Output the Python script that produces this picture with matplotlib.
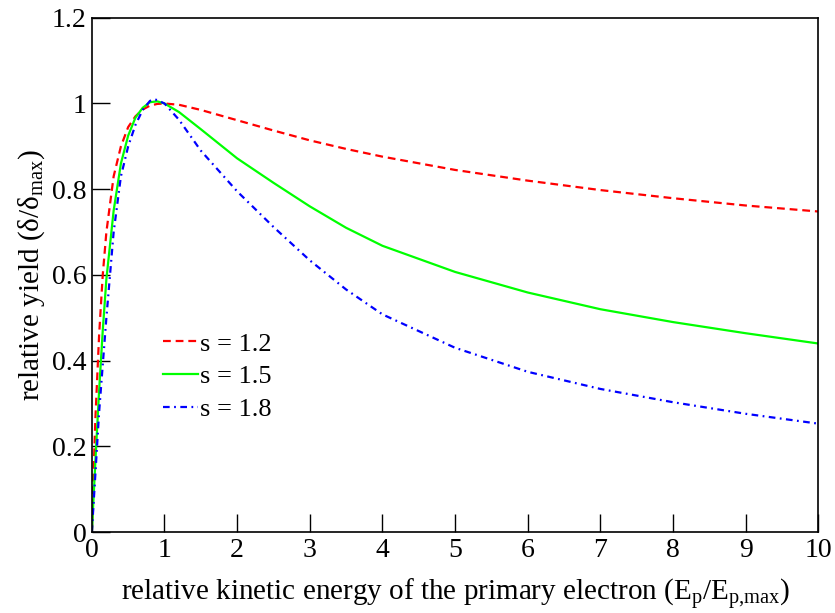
import matplotlib
matplotlib.use("Agg")
import matplotlib.pyplot as plt

plt.rcParams['font.family'] = ['Liberation Serif', 'DejaVu Serif']
plt.rcParams['mathtext.fontset'] = 'custom'
plt.rcParams['mathtext.rm'] = 'Liberation Serif'
plt.rcParams['mathtext.it'] = 'Liberation Serif:italic'

# values
x_red = [0, 0.02, 0.05, 0.1, 0.15, 0.2, 0.3, 0.4, 0.5, 0.6, 0.7, 0.8, 0.9, 1.0,
         1.2, 1.5, 2, 2.5, 3, 3.5, 4, 5, 6, 7, 8, 9, 10]
y_red = [0, 0.12, 0.27, 0.46, 0.60, 0.70, 0.83, 0.90, 0.945, 0.97, 0.986, 0.995, 0.999, 1.0,
         0.997, 0.985, 0.961, 0.937, 0.914, 0.894, 0.876, 0.845, 0.82, 0.798, 0.779, 0.762, 0.748]

x_green = [0, 0.05, 0.1, 0.15, 0.2, 0.3, 0.4, 0.5, 0.6, 0.7, 0.8, 0.9, 1.0,
           1.2, 1.5, 2, 2.5, 3, 3.5, 4, 5, 6, 7, 8, 9, 10]
y_green = [0, 0.17, 0.33, 0.47, 0.59, 0.75, 0.86, 0.925, 0.967, 0.99, 1.003, 1.005, 1.0,
           0.98, 0.94, 0.872, 0.815, 0.76, 0.71, 0.668, 0.607, 0.559, 0.52, 0.49, 0.464, 0.44]

x_blue = [0, 0.05, 0.1, 0.15, 0.2, 0.3, 0.4, 0.5, 0.6, 0.7, 0.8, 0.85, 0.9, 1.0,
          1.2, 1.5, 2, 2.5, 3, 3.5, 4, 5, 6, 7, 8, 9, 10]
y_blue = [0, 0.14, 0.28, 0.39, 0.50, 0.70, 0.83, 0.90, 0.95, 0.985, 1.006, 1.01, 1.008, 1.0,
          0.962, 0.89, 0.795, 0.712, 0.634, 0.566, 0.508, 0.43, 0.374, 0.334, 0.303, 0.276, 0.253]

labels = ['s = 1.2', 's = 1.5', 's = 1.8']
x_ticks = list(range(0, 11))
y_ticks = [0, 0.2, 0.4, 0.6, 0.8, 1.0, 1.2]
y_tick_labels = ['0', '0.2', '0.4', '0.6', '0.8', '1', '1.2']

fig = plt.figure(figsize=(8.35, 6.13), dpi=100)
ax = fig.add_axes([0.110, 0.132, 0.870, 0.839])

ax.plot(x_red, y_red, color='#ff0000', lw=1.6, linestyle=(0, (3.5, 2.2)), label=labels[0])
ax.plot(x_green, y_green, color='#00ff00', lw=1.6, linestyle='-', label=labels[1])
ax.plot(x_blue, y_blue, color='#0000ff', lw=1.6, linestyle=(0, (3, 2, 0.8, 2)), label=labels[2])

ax.set_xlim(0, 10)
ax.set_ylim(0, 1.2)
ax.set_xticks(x_ticks)
ax.set_yticks(y_ticks)
ax.set_yticklabels(y_tick_labels)
ax.tick_params(direction='in', length=13, width=1, labelsize=20,
               top=False, right=False)
ax.tick_params(axis='x', pad=4)
ax.tick_params(axis='y', pad=4)
for sp in ax.spines.values():
    sp.set_linewidth(1.2)

ax.set_xlabel(r'relative kinetic energy of the primary electron (E$_{\mathrm{p}}$/E$_{\mathrm{p{,}max}}$)',
              fontsize=21, labelpad=10)
ax.set_ylabel(r'relative yield (δ/δ$_{\mathrm{max}}$)', fontsize=21, labelpad=3)

ax.legend(loc='upper left', bbox_to_anchor=(0.065, 0.435), frameon=False,
          fontsize=19, handlelength=1.35, handletextpad=0.05, labelspacing=0.35)

fig.savefig('out.png', dpi=100)
